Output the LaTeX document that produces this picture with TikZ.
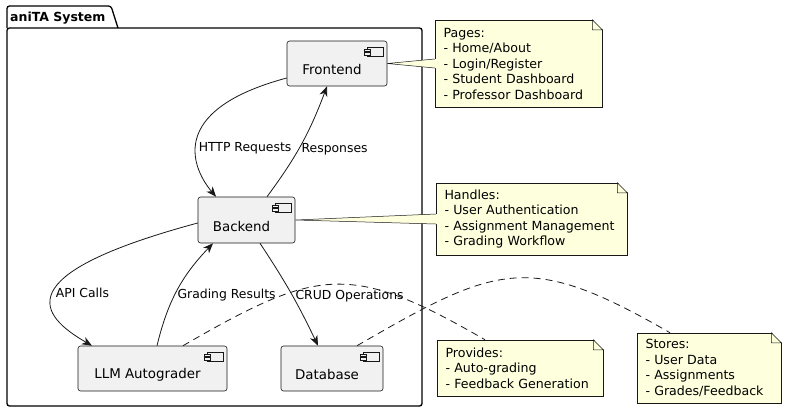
\documentclass[tikz,border=0pt]{standalone}
\usepackage{fontspec}
\setmainfont{DejaVu Sans}
\usetikzlibrary{arrows.meta}
\definecolor{compfill}{HTML}{F1F1F1}
\definecolor{notefill}{HTML}{FEFFDD}
\definecolor{edgecol}{HTML}{181818}

\begin{document}
\begin{tikzpicture}[x=1pt,y=1pt]
 	\tikzstyle{every node}+=[inner sep=0pt]
 	\tikzstyle{comp}=[draw=edgecol, line width=0.6pt, fill=compfill, rounded corners=2.5pt,
 	  path picture={
 	    \draw[edgecol, line width=0.5pt, sharp corners] ([shift={(-20,-6)}]path picture bounding box.north east) rectangle ++(16,-9);
 	    \filldraw[edgecol, fill=compfill, line width=0.5pt, sharp corners] ([shift={(-23,-8.3)}]path picture bounding box.north east) rectangle ++(6,-2.3);
 	    \filldraw[edgecol, fill=compfill, line width=0.5pt, sharp corners] ([shift={(-23,-11.7)}]path picture bounding box.north east) rectangle ++(6,-2.3);
 	  }]
 	\tikzstyle{complbl}=[font=\fontsize{13.4}{15}\selectfont, xshift=-5pt, yshift=-6pt]
 	\tikzstyle{note}=[fill=notefill, draw=edgecol, line width=0.5pt, align=left, inner xsep=8.5pt, inner ysep=0pt, font=\fontsize{12.6}{15.5}\selectfont]
 	\tikzstyle{noteline}=[draw=edgecol, line width=0.5pt]
 	\tikzstyle{flow}=[draw=edgecol, line width=0.8pt, -{Stealth[length=10pt,width=8pt,inset=3pt]}]
 	\tikzstyle{link}=[draw=edgecol, line width=0.8pt, dash pattern=on 7pt off 5pt]
 	\tikzstyle{lbl}=[font=\fontsize{12.4}{14}\selectfont, inner sep=2.5pt]
 	\useasboundingbox (0,0) rectangle (786,-413);
 	% package frame
 	\draw [black, line width=1.3pt, rounded corners=2.5pt] (7,-28) -- (7,-6) -- (111,-6) -- (118,-28);
 	\draw [black, line width=1.3pt, rounded corners=2.5pt] (7,-28) rectangle (422,-406);
 	\node [anchor=west, font=\fontsize{12.5}{14}\selectfont\bfseries] (systitle) at (10,-18) {aniTA System};
 	% components
 	\node [comp, minimum width=100pt, minimum height=45pt, label={[complbl]center:Frontend}] (frontend) at (337,-63.5) {};
 	\node [comp, minimum width=97pt, minimum height=46pt, label={[complbl]center:Backend}] (backend) at (246.5,-220) {};
 	\node [comp, minimum width=149pt, minimum height=45pt, label={[complbl]center:LLM Autograder}] (llm) at (152.5,-368.5) {};
 	\node [comp, minimum width=102pt, minimum height=45pt, label={[complbl]center:Database}] (database) at (332,-368.5) {};
 	% notes
 	\node [note, text width=150pt, minimum height=87pt] (pages) at (518.5,-63.5) {Pages:\\- Home/About\\- Login/Register\\- Student Dashboard\\- Professor Dashboard};
 	\node [note, text width=174pt, minimum height=72pt] (handles) at (531.5,-219) {Handles:\\- User Authentication\\- Assignment Management\\- Grading Workflow};
 	\node [note, text width=149pt, minimum height=56pt] (provides) at (520,-368) {Provides:\\- Auto-grading\\- Feedback Generation};
 	\node [note, text width=127pt, minimum height=70pt] (stores) at (709,-368) {Stores:\\- User Data\\- Assignments\\- Grades/Feedback};
 	% folded corners
 	\fill [white] ([shift={(-10,0.6)}]pages.north east) -- ([shift={(0.6,0.6)}]pages.north east) -- ([shift={(0.6,-10)}]pages.north east) -- cycle;
 	\draw [noteline] ([xshift=-10pt]pages.north east) -- ++(0,-10) -- ++(10,0) -- cycle;
 	\fill [white] ([shift={(-10,0.6)}]handles.north east) -- ([shift={(0.6,0.6)}]handles.north east) -- ([shift={(0.6,-10)}]handles.north east) -- cycle;
 	\draw [noteline] ([xshift=-10pt]handles.north east) -- ++(0,-10) -- ++(10,0) -- cycle;
 	\fill [white] ([shift={(-10,0.6)}]provides.north east) -- ([shift={(0.6,0.6)}]provides.north east) -- ([shift={(0.6,-10)}]provides.north east) -- cycle;
 	\draw [noteline] ([xshift=-10pt]provides.north east) -- ++(0,-10) -- ++(10,0) -- cycle;
 	\fill [white] ([shift={(-10,0.6)}]stores.north east) -- ([shift={(0.6,0.6)}]stores.north east) -- ([shift={(0.6,-10)}]stores.north east) -- cycle;
 	\draw [noteline] ([xshift=-10pt]stores.north east) -- ++(0,-10) -- ++(10,0) -- cycle;
 	% note wedges
 	\fill [notefill] (frontend.east) -- ([yshift=4.5pt]pages.west) -- ([shift={(1,4.5)}]pages.west) -- ([shift={(1,-4.5)}]pages.west) -- ([yshift=-4.5pt]pages.west) -- cycle;
 	\draw [noteline] ([yshift=4.5pt]pages.west) -- (frontend.east) -- ([yshift=-4.5pt]pages.west);
 	\fill [notefill] (backend.east) -- ([yshift=5pt]handles.west) -- ([shift={(1,5)}]handles.west) -- ([shift={(1,-5)}]handles.west) -- ([yshift=-5pt]handles.west) -- cycle;
 	\draw [noteline] ([yshift=5pt]handles.west) -- (backend.east) -- ([yshift=-5pt]handles.west);
 	% flows
 	\draw [flow] ([yshift=-14.5pt]frontend.west) .. controls +(-123,-33) and +(-22,26) .. ([xshift=-30.5pt]backend.north) node [lbl, right, pos=0.56] (httplbl) {HTTP Requests};
 	\draw [flow] ([xshift=20.5pt]backend.north) to [bend right=8] node [lbl, right, pos=0.45] (resplbl) {Responses} ([xshift=-10pt]frontend.south);
 	\draw [flow] ([yshift=-3pt]backend.west) .. controls +(-193,-52) and +(-52,30) .. ([xshift=-60.5pt]llm.north) node [lbl, right, pos=0.5] (apilbl) {API Calls};
 	\draw [flow] ([xshift=4.5pt]llm.north) to [bend left=15] node [lbl, right, pos=0.45] (gradelbl) {Grading Results} ([xshift=-33.5pt]backend.south);
 	\draw [flow] ([xshift=13.5pt]backend.south) to [bend left=4] node [lbl, right, pos=0.53] (crudlbl) {CRUD Operations} ([xshift=-14pt]database.north);
 	% note links
 	\draw [link] ([xshift=30.5pt]llm.north) to [out=30, in=150, looseness=1.32] ([xshift=-35pt]provides.north);
 	\draw [link] ([xshift=25pt]database.north) to [out=30, in=150, looseness=1.33] ([xshift=-39pt]stores.north);
\end{tikzpicture}
\end{document}
